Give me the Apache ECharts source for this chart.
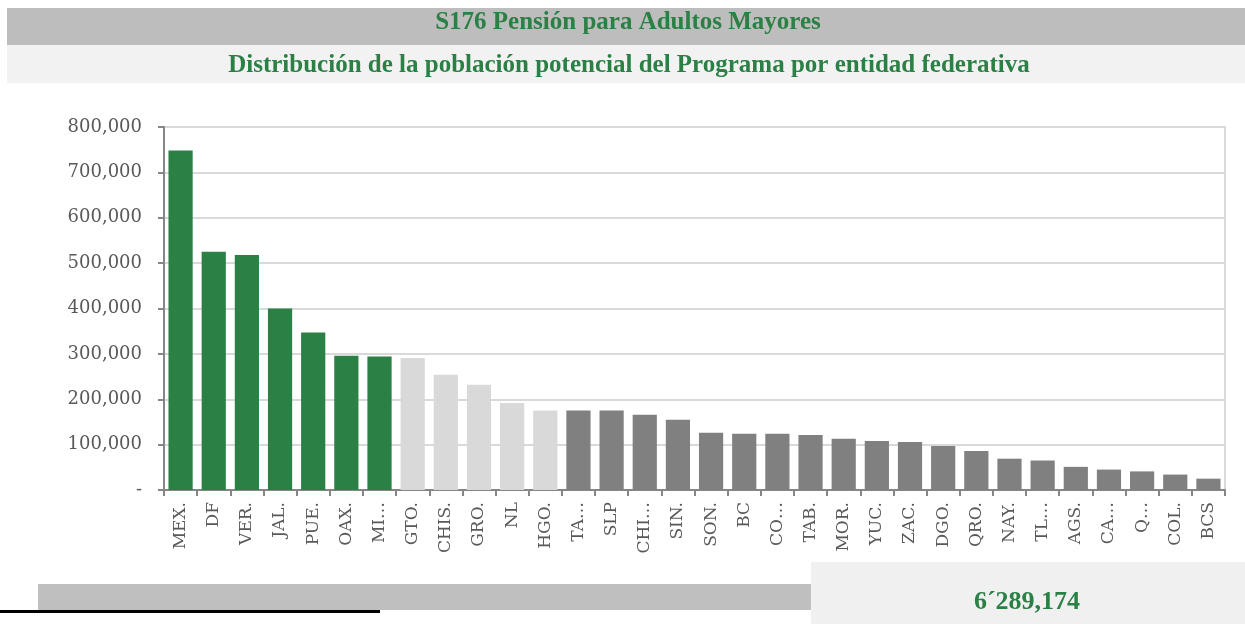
<!DOCTYPE html>
<html>
<head>
<meta charset="utf-8">
<script src="https://cdn.jsdelivr.net/npm/echarts@6/dist/echarts.min.js"></script>
<style>
    html, body {margin: 0; padding: 0; background: #fff;}
    #chart {width: 1245px; height: 624px;}
</style>
</head>
<body>
<div id="chart"></div>
<script>
const title = 'S176 Pensión para Adultos Mayores'
const subtitle = 'Distribución de la población potencial del Programa por entidad federativa'
const totalLabel = '6´289,174'

const states = ['MEX.', 'DF', 'VER.', 'JAL.', 'PUE.', 'OAX.', 'MI…', 'GTO.', 'CHIS.', 'GRO.', 'NL', 'HGO.',
    'TA…', 'SLP', 'CHI…', 'SIN.', 'SON.', 'BC', 'CO…', 'TAB.', 'MOR.', 'YUC.', 'ZAC.', 'DGO.', 'QRO.',
    'NAY.', 'TL…', 'AGS.', 'CA…', 'Q…', 'COL.', 'BCS']
const population = [748000, 525000, 518000, 400000, 347000, 296000, 294000, 291000, 254000, 232000, 192000, 175000,
    175000, 175000, 166000, 155000, 126000, 124000, 124000, 121000, 113000, 108000, 106000, 97000, 86000,
    69000, 65000, 51000, 45000, 41000, 34000, 25000]
// first 7 states in green, next 5 light gray, rest dark gray
const tierSizes = [7, 5]

const green = '#2a8045'
const chart = echarts.init(document.getElementById('chart'))

const barData = population.map((v, i) => {
    let color = '#808080'
    if (i < tierSizes[0]) color = green
    else if (i < tierSizes[0] + tierSizes[1]) color = '#d9d9d9'
    return {value: v, itemStyle: {color}}
})

const option = {
    animation: false,
    grid: {
        left: 164, right: 20, top: 127, bottom: 134,
        show: true, borderColor: '#d9d9d9', borderWidth: 2
    },
    xAxis: {
        type: 'category',
        data: states,
        axisLine: {lineStyle: {color: '#868686', width: 2}},
        axisTick: {show: true, length: 6, lineStyle: {color: '#868686', width: 2}},
        axisLabel: {
            rotate: 90, interval: 0, margin: 12,
            color: '#595959', fontFamily: 'DejaVu Serif', fontSize: 17
        }
    },
    yAxis: {
        type: 'value',
        min: 0, max: 800000, interval: 100000,
        axisLine: {show: true, lineStyle: {color: '#868686', width: 2}},
        axisTick: {show: true, length: 6, lineStyle: {color: '#868686', width: 2}},
        splitLine: {lineStyle: {color: '#d9d9d9', width: 2}},
        axisLabel: {
            margin: 22,
            color: '#595959', fontFamily: 'DejaVu Serif', fontSize: 18,
            formatter: v => v === 0 ? '-' : v.toLocaleString('en-US')
        }
    },
    series: [{
        type: 'bar',
        data: barData,
        barCategoryGap: '27%'
    }],
    graphic: [
        {type: 'rect', shape: {x: 7, y: 8, width: 1238, height: 37}, style: {fill: '#bdbdbd'}},
        {type: 'rect', shape: {x: 7, y: 45, width: 1238, height: 38}, style: {fill: '#f2f2f2'}},
        {type: 'text', x: 628, y: 23, style: {
            text: title, fill: green, align: 'center', verticalAlign: 'middle',
            font: 'bold 25px "Liberation Serif"'
        }},
        {type: 'text', x: 629, y: 66, style: {
            text: subtitle, fill: green, align: 'center', verticalAlign: 'middle',
            font: 'bold 25px "Liberation Serif"'
        }},
        {type: 'rect', shape: {x: 38, y: 584, width: 773, height: 26}, style: {fill: '#bfbfbf'}},
        {type: 'rect', shape: {x: 0, y: 610, width: 380, height: 3}, style: {fill: '#000'}},
        {type: 'rect', shape: {x: 811, y: 562, width: 434, height: 62}, style: {fill: '#f0f0f0'}},
        {type: 'text', x: 1027, y: 602, style: {
            text: totalLabel, fill: green, align: 'center', verticalAlign: 'middle',
            font: 'bold 26px "Liberation Serif"'
        }}
    ]
}

chart.setOption(option)
</script>
</body>
</html>
